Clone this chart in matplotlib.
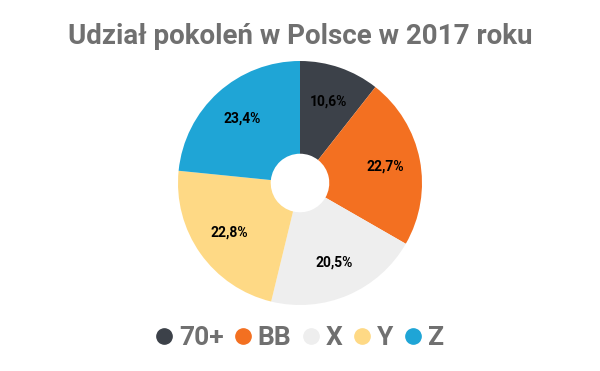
import matplotlib
matplotlib.use("Agg")
import matplotlib.pyplot as plt
from matplotlib.lines import Line2D

categories = ["70+", "BB", "X", "Y", "Z"]
values = [10.6, 22.7, 20.5, 22.8, 23.4]
labels = ["10,6%", "22,7%", "20,5%", "22,8%", "23,4%"]
colors = ["#3c4149", "#f37021", "#eeeeee", "#fed985", "#1fa5d6"]
title = "Udział pokoleń w Polsce w 2017 roku"

plt.rcParams['font.family'] = ['Roboto', 'DejaVu Sans']
W, H = 600, 371
fig = plt.figure(figsize=(W/100, H/100), dpi=100)
fig.patch.set_facecolor("white")

cx, cy, r = 300, 183, 122
ax = fig.add_axes([(cx - r)/W, (H - cy - r)/H, 2*r/W, 2*r/H])
wedges, texts = ax.pie(values, colors=colors, startangle=90, counterclock=False,
                       radius=1.0, labels=labels, labeldistance=0.71,
                       wedgeprops=dict(width=0.76, linewidth=0),
                       textprops=dict(fontsize=10, fontweight='bold', color='black',
                                      ha='center', va='center'))
for t in texts:
    t.set_ha('center')
ax.set_xlim(-1, 1)
ax.set_ylim(-1, 1)
ax.set_aspect('auto')
ax.axis('off')

fig.text(0.5, (H - 36)/H, title, ha='center', va='center', fontsize=20,
         fontweight='bold', color='#707070')

handles = [Line2D([0], [0], marker='o', linestyle='none', markersize=11,
                  markerfacecolor=c, markeredgecolor=c) for c in colors]
leg = fig.legend(handles, categories, loc='center', bbox_to_anchor=(0.5, (H - 338)/H),
                 ncol=5, frameon=False, handletextpad=0.25, columnspacing=0.45,
                 handlelength=0.6, prop=dict(size=19, weight='bold'))
for t in leg.get_texts():
    t.set_color('#707070')

fig.savefig("out.png", dpi=100, facecolor="white")
